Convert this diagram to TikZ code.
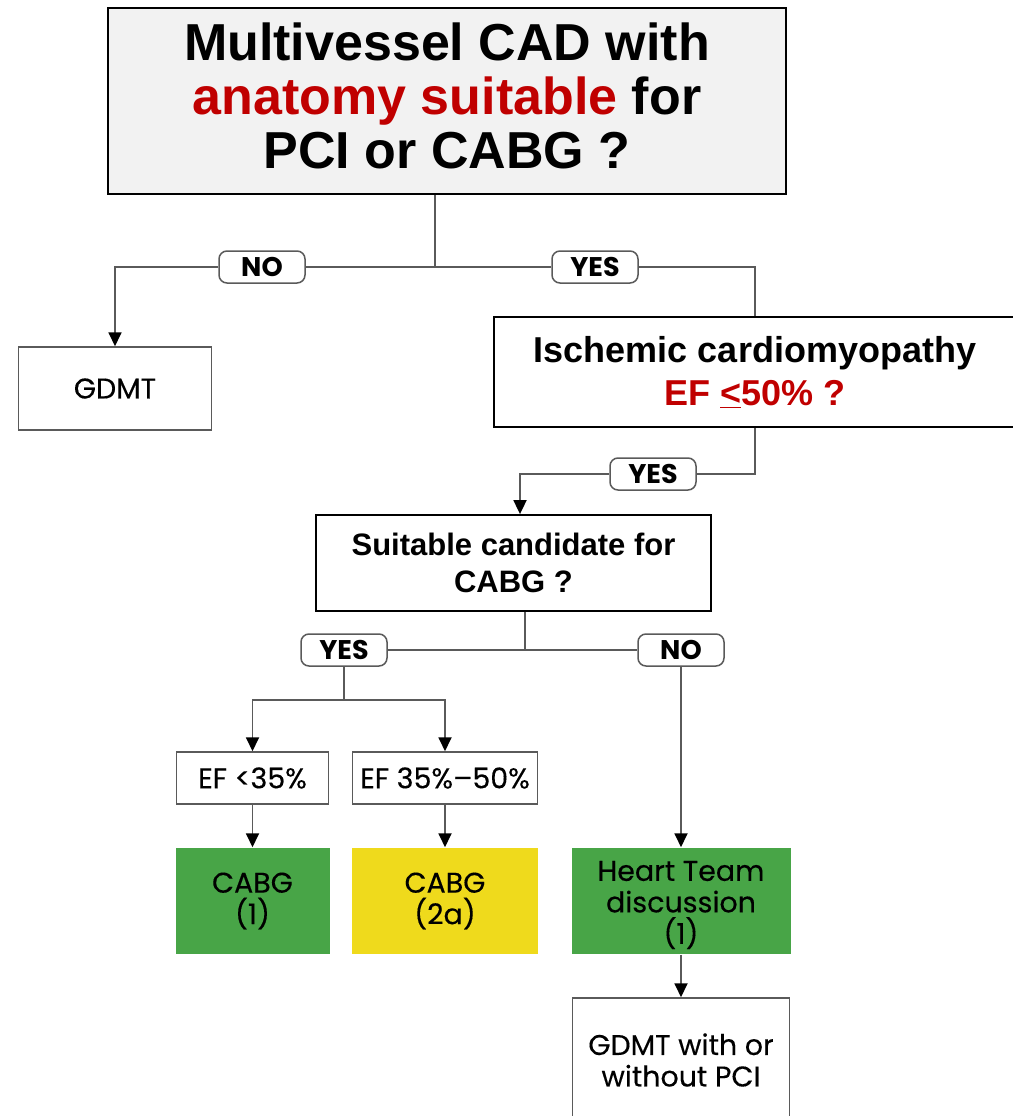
\documentclass[tikz,border=0pt]{standalone}
\usepackage{fontspec}
\setmainfont{Liberation Sans}
\newfontfamily\guidefont[FakeBold=0.3]{Poppins}
\newfontfamily\labelfont{Poppins}
\usetikzlibrary{arrows.meta,positioning}

\definecolor{cadred}{HTML}{C00000}
\definecolor{boxgray}{HTML}{F2F2F2}
\definecolor{linegray}{HTML}{5A5A5A}
\definecolor{classone}{HTML}{48A547}
\definecolor{classtwo}{HTML}{EFDA1C}

\tikzset{
	question/.style={draw=black, line width=1.8pt, align=center, inner sep=0pt, font=\bfseries},
	outcome/.style={draw=linegray, line width=1.5pt, align=center, inner sep=0pt,
		font=\guidefont\fontsize{28.5}{31.5}\selectfont, text=black},
	answer/.style={draw=linegray, line width=1.5pt, rounded corners=8pt, fill=white,
		minimum width=86pt, minimum height=32pt, inner sep=0pt,
		font=\labelfont\bfseries\fontsize{27}{27}\selectfont},
	link/.style={draw=linegray, line width=1.8pt},
	flow/.style={link, -{Triangle[length=14pt,width=13pt,color=black]}}
}

\begin{document}
\begin{tikzpicture}[x=1pt, y=-1pt]
	\useasboundingbox (0,0) rectangle (1012,1116);

	\node[question, fill=boxgray, minimum width=678pt, minimum height=186pt,
		font=\bfseries\fontsize{52}{54}\selectfont] (cad) at (447,101)
		{Multivessel CAD with\\ \textcolor{cadred}{anatomy suitable} for\\ PCI or CABG ?\rule[-10pt]{0pt}{0pt}};
	\node[outcome, minimum width=193pt, minimum height=83pt] (gdmt) at (115,388.5) {GDMT};
	\node[question, minimum width=522pt, minimum height=110pt,
		font=\bfseries\fontsize{36}{43}\selectfont] (isch) at (755,372)
		{Ischemic cardiomyopathy\\ \textcolor{cadred}{EF \underline{<}50\% ?}};
	\node[question, minimum width=395pt, minimum height=96pt,
		font=\bfseries\fontsize{31}{37}\selectfont] (suit) at (513.5,563)
		{Suitable candidate for\\ CABG ?};

	\node[answer] (no1) at (262,267) {NO};
	\node[answer] (yes1) at (595,267) {YES};
	\node[answer] (yes2) at (653,474) {YES};
	\node[answer] (yes3) at (344,650) {YES};
	\node[answer] (no3) at (681,650) {NO};

	\node[outcome, minimum width=152pt, minimum height=52pt] (ef1) at (252.5,778) {EF <35\%};
	\node[outcome, minimum width=185pt, minimum height=52pt] (ef2) at (445,778) {EF 35\%–50\%};
	\node[outcome, draw=none, fill=classone, minimum width=154pt, minimum height=106pt] (cabg1) at (252.5,901) {CABG\\(1)};
	\node[outcome, draw=none, fill=classtwo, minimum width=186pt, minimum height=106pt] (cabg2) at (445,901) {CABG\\(2a)};
	\node[outcome, draw=none, fill=classone, minimum width=219pt, minimum height=106pt] (heart) at (681,901) {\rule{0pt}{28pt}Heart Team\\discussion\\(1)};
	\node[outcome, minimum width=217pt, minimum height=124pt] (gdmt2) at (681,1060) {GDMT with or\\without PCI};

	\coordinate (split1) at (435,267);
	\coordinate (join2) at (520,474);
	\coordinate (split3) at (525,650);
	\coordinate (split4) at (345,700);

	\draw[link] (cad.south -| split1) -- (split1);
	\draw[link] (split1) -- (no1.east);
	\draw[link] (split1) -- (yes1.west);
	\draw[flow] (no1.west) -| (gdmt);
	\draw[link] (yes1.east) -| (isch);
	\draw[link] (isch.south) |- (yes2.east);
	\draw[flow] (yes2.west) -| (suit.north -| join2);
	\draw[link] (suit.south -| split3) -- (split3);
	\draw[link] (yes3.east) -- (no3.west);
	\draw[link] (yes3.south) |- (split4);
	\draw[flow] (split4) -| (ef1);
	\draw[flow] (split4) -| (ef2);
	\draw[flow] (ef1) -- (cabg1);
	\draw[flow] (ef2) -- (cabg2);
	\draw[flow] (no3) -- (heart);
	\draw[flow] (heart) -- (gdmt2);
\end{tikzpicture}
\end{document}
